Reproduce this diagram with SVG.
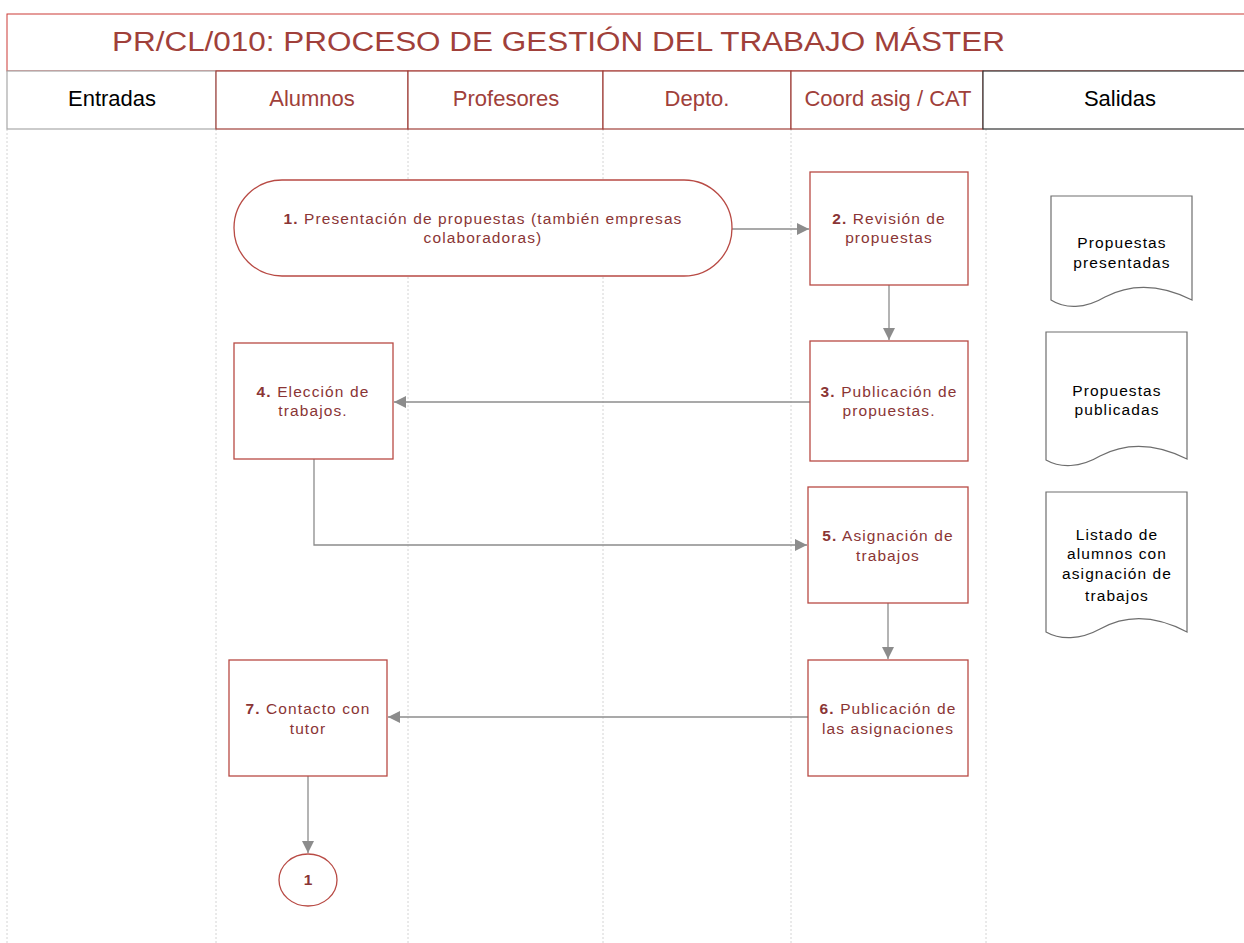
<svg xmlns="http://www.w3.org/2000/svg" width="1244" height="943" viewBox="0 0 1244 943">
<defs>
<marker id="arr" viewBox="0 0 10 10" refX="10" refY="5" markerWidth="12" markerHeight="12" markerUnits="userSpaceOnUse" orient="auto">
<path d="M0,0 L10,5 L0,10 z" fill="#8c8c8c"/>
</marker>
</defs>
<style>
text{font-family:"Liberation Sans",Arial,sans-serif;}
.lane{stroke:#d4d4d4;stroke-width:1;stroke-dasharray:2,2;fill:none}
.hdr{font-size:22px;text-anchor:middle}
.red{fill:#a0403a}
.node{fill:#fff;stroke:#b84a44;stroke-width:1.3}
.nt{font-size:15.5px;fill:#8a3535;text-anchor:middle;letter-spacing:1.1px}
.doc{fill:#fff;stroke:#6e6e6e;stroke-width:1.2}
.dt{font-size:15.5px;fill:#000;text-anchor:middle;letter-spacing:1.1px}
.conn{stroke:#8c8c8c;stroke-width:1.3;fill:none}
</style>
<rect width="1244" height="943" fill="#fff"/>
<g id="lanes">
<line class="lane" x1="7" y1="129" x2="7" y2="943"/>
<line class="lane" x1="216" y1="129" x2="216" y2="943"/>
<line class="lane" x1="408" y1="129" x2="408" y2="943"/>
<line class="lane" x1="603" y1="129" x2="603" y2="943"/>
<line class="lane" x1="791" y1="129" x2="791" y2="943"/>
<line class="lane" x1="986" y1="129" x2="986" y2="943"/>
</g>
<g id="title">
<rect x="7" y="14" width="1240" height="57" fill="#fff" stroke="#cc3b36" stroke-width="1"/>
<text x="112" y="51" font-size="27" class="red" textLength="893" lengthAdjust="spacingAndGlyphs">PR/CL/010: PROCESO DE GESTIÓN DEL TRABAJO MÁSTER</text>
</g>
<g id="header">
<rect x="7" y="71" width="209" height="58" fill="#fff" stroke="#a8a8a8" stroke-width="1.2"/>
<rect x="216" y="71" width="192" height="58" fill="#fff" stroke="#a0403a" stroke-width="1.2"/>
<rect x="408" y="71" width="195" height="58" fill="#fff" stroke="#a0403a" stroke-width="1.2"/>
<rect x="603" y="71" width="188" height="58" fill="#fff" stroke="#a0403a" stroke-width="1.2"/>
<rect x="791" y="71" width="192" height="58" fill="#fff" stroke="#a0403a" stroke-width="1.2"/>
<rect x="983" y="71" width="264" height="58" fill="#fff" stroke="#333" stroke-width="1.2"/>
<text class="hdr" x="112" y="106" fill="#000">Entradas</text>
<text class="hdr red" x="312" y="106">Alumnos</text>
<text class="hdr red" x="506" y="106">Profesores</text>
<text class="hdr red" x="697" y="106">Depto.</text>
<text class="hdr red" x="888" y="106">Coord asig / CAT</text>
<text class="hdr" x="1120" y="106" fill="#000">Salidas</text>
</g>
<g id="connectors">
<line class="conn" x1="732" y1="229" x2="809" y2="229" marker-end="url(#arr)"/>
<line class="conn" x1="889" y1="285" x2="889" y2="340" marker-end="url(#arr)"/>
<line class="conn" x1="810" y1="402" x2="394" y2="402" marker-end="url(#arr)"/>
<polyline class="conn" points="314,459 314,545 807,545" marker-end="url(#arr)"/>
<line class="conn" x1="888" y1="603" x2="888" y2="659" marker-end="url(#arr)"/>
<line class="conn" x1="808" y1="717" x2="388" y2="717" marker-end="url(#arr)"/>
<line class="conn" x1="308" y1="776" x2="308" y2="853" marker-end="url(#arr)"/>
</g>
<g id="n1">
<rect class="node" x="234" y="180" width="498" height="96" rx="48" ry="48"/>
<text class="nt" x="483" y="224"><tspan font-weight="bold">1.</tspan> Presentación de propuestas (también empresas</text>
<text class="nt" x="483" y="243">colaboradoras)</text>
</g>
<g id="n2">
<rect class="node" x="810" y="172" width="158" height="113"/>
<text class="nt" x="889" y="224"><tspan font-weight="bold">2.</tspan> Revisión de</text>
<text class="nt" x="889" y="243">propuestas</text>
</g>
<g id="n3">
<rect class="node" x="810" y="341" width="158" height="120"/>
<text class="nt" x="889" y="397"><tspan font-weight="bold">3.</tspan> Publicación de</text>
<text class="nt" x="889" y="416">propuestas.</text>
</g>
<g id="n4">
<rect class="node" x="234" y="343" width="159" height="116"/>
<text class="nt" x="313" y="397"><tspan font-weight="bold">4.</tspan> Elección de</text>
<text class="nt" x="313" y="416">trabajos.</text>
</g>
<g id="n5">
<rect class="node" x="808" y="487" width="160" height="116"/>
<text class="nt" x="888" y="541"><tspan font-weight="bold">5.</tspan> Asignación de</text>
<text class="nt" x="888" y="561">trabajos</text>
</g>
<g id="n6">
<rect class="node" x="808" y="660" width="160" height="116"/>
<text class="nt" x="888" y="714"><tspan font-weight="bold">6.</tspan> Publicación de</text>
<text class="nt" x="888" y="734">las asignaciones</text>
</g>
<g id="n7">
<rect class="node" x="229" y="660" width="158" height="116"/>
<text class="nt" x="308" y="714"><tspan font-weight="bold">7.</tspan> Contacto con</text>
<text class="nt" x="308" y="734">tutor</text>
</g>
<g id="c1">
<ellipse class="node" cx="308" cy="880" rx="29" ry="26"/>
<text class="nt" x="308" y="885" font-weight="bold" font-size="14" style="letter-spacing:0">1</text>
</g>
<g id="d1">
<path class="doc" d="M1051,196 L1192,196 L1192,300 C1160,284 1130,284 1105,297 C1085,309 1065,309 1051,300 Z"/>
<text class="dt" x="1122" y="248">Propuestas</text>
<text class="dt" x="1122" y="268">presentadas</text>
</g>
<g id="d2">
<path class="doc" d="M1046,332 L1187,332 L1187,459 C1155,443 1125,443 1100,456 C1080,468 1060,468 1046,460 Z"/>
<text class="dt" x="1117" y="396">Propuestas</text>
<text class="dt" x="1117" y="415">publicadas</text>
</g>
<g id="d3">
<path class="doc" d="M1046,492 L1187,492 L1187,632 C1155,615 1125,615 1100,629 C1080,640 1060,640 1046,632 Z"/>
<text class="dt" x="1117" y="540">Listado de</text>
<text class="dt" x="1117" y="559">alumnos con</text>
<text class="dt" x="1117" y="579">asignación de</text>
<text class="dt" x="1117" y="601">trabajos</text>
</g>
</svg>
